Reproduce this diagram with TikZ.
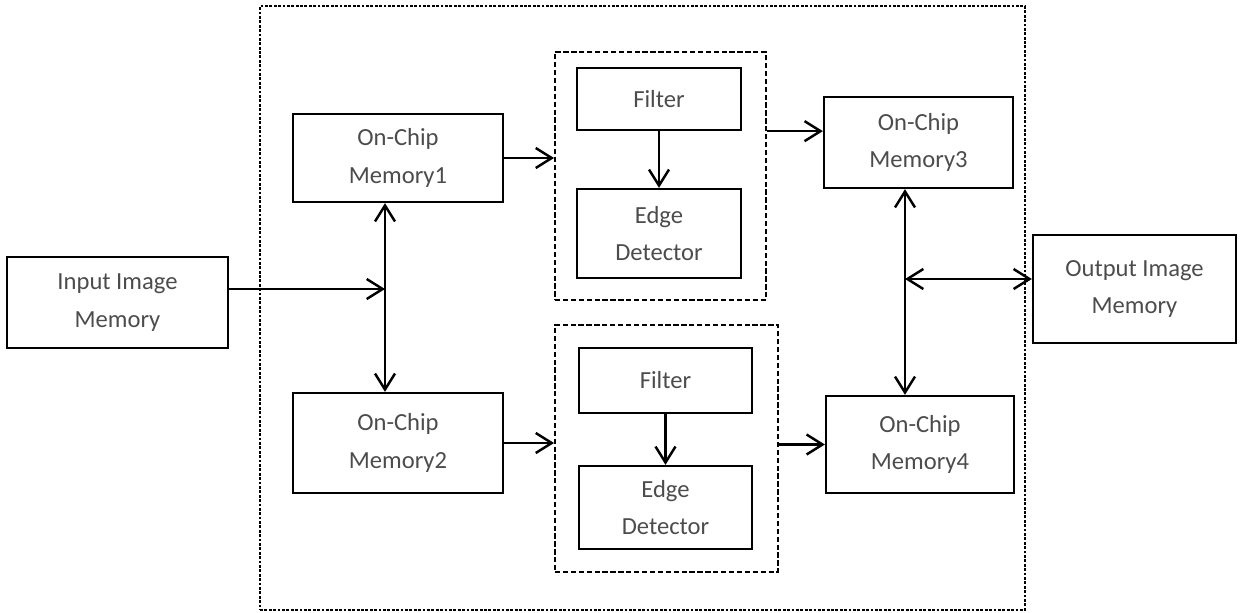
\documentclass[tikz,border=0pt]{standalone}
\usepackage{fontspec}
\setmainfont{Carlito}
\usetikzlibrary{positioning,arrows.meta}
\tikzset{
  blk/.style={draw, line width=1.3pt, align=center, text=black!70,
    font=\fontsize{14}{21.5}\selectfont, inner sep=2pt},
  grp/.style={draw, line width=1.1pt, dash pattern=on 3pt off 1.5pt, inner sep=0pt},
  chipbox/.style={draw, line width=0.9pt, dash pattern=on 1.6pt off 0.9pt, inner sep=0pt},
  conn/.style={line width=1.4pt, arrows={-Straight Barb[length=3.2mm,width=4mm]}},
  bconn/.style={line width=1.4pt, arrows={Straight Barb[length=3.2mm,width=4mm]-Straight Barb[length=3.2mm,width=4mm]}}
}

\begin{document}
\begin{tikzpicture}[x=0.02cm,y=-0.02cm]
\useasboundingbox (0,0) rectangle (1240,612);
% outer chip
\node[chipbox, minimum width=15.3cm, minimum height=12.08cm] (chip) at (642.5,308) {};
% memories outside
\node[blk, minimum width=4.42cm, minimum height=1.82cm] (input) at (117.5,302.5) {Input Image\\Memory};
\node[blk, minimum width=4.06cm, minimum height=2.16cm] (output) at (1134.5,289) {Output Image\\Memory};
% on-chip memories
\node[blk, minimum width=4.2cm, minimum height=1.76cm] (mem1) at (398,158) {On-Chip\\Memory1};
\node[blk, minimum width=4.2cm, minimum height=2.0cm] (mem2) at (398,443) {On-Chip\\Memory2};
\node[blk, minimum width=3.78cm, minimum height=1.82cm] (mem3) at (918.5,142.5) {On-Chip\\Memory3};
\node[blk, minimum width=3.76cm, minimum height=1.94cm] (mem4) at (920,444.5) {On-Chip\\Memory4};
% processing units
\node[grp, minimum width=4.22cm, minimum height=4.96cm] (pu1) at (660.5,176) {};
\node[blk, minimum width=3.28cm, minimum height=1.24cm] (filt1) at (659,99) {Filter};
\node[blk, minimum width=3.28cm, minimum height=1.78cm] (edge1) at (659,233.5) {Edge\\Detector};
\node[grp, minimum width=4.46cm, minimum height=4.94cm] (pu2) at (666.5,448.5) {};
\node[blk, minimum width=3.46cm, minimum height=1.3cm] (filt2) at (665.5,380.5) {Filter};
\node[blk, minimum width=3.46cm, minimum height=1.66cm] (edge2) at (665.5,507.5) {Edge\\Detector};
% junctions
\coordinate (j1) at (385,289);
\coordinate (j2) at (905,279);
% connectors
\draw[conn] (input.east |- j1) -- (j1);
\draw[bconn] (mem1.south -| j1) -- (mem2.north -| j1);
\draw[conn] (mem1.east) -- (mem1.east -| pu1.west);
\draw[conn] (mem2.east) -- (mem2.east -| pu2.west);
\draw[conn] (filt1) -- (edge1);
\draw[conn] (filt2) -- (edge2);
\draw[conn] (pu1.east |- filt1.south) -- (filt1.south -| mem3.west);
\draw[conn] (pu2.east |- mem4.west) -- (mem4.west);
\draw[bconn] (mem3.south -| j2) -- (mem4.north -| j2);
\draw[bconn] (j2) -- (output.west |- j2);
\end{tikzpicture}
\end{document}
